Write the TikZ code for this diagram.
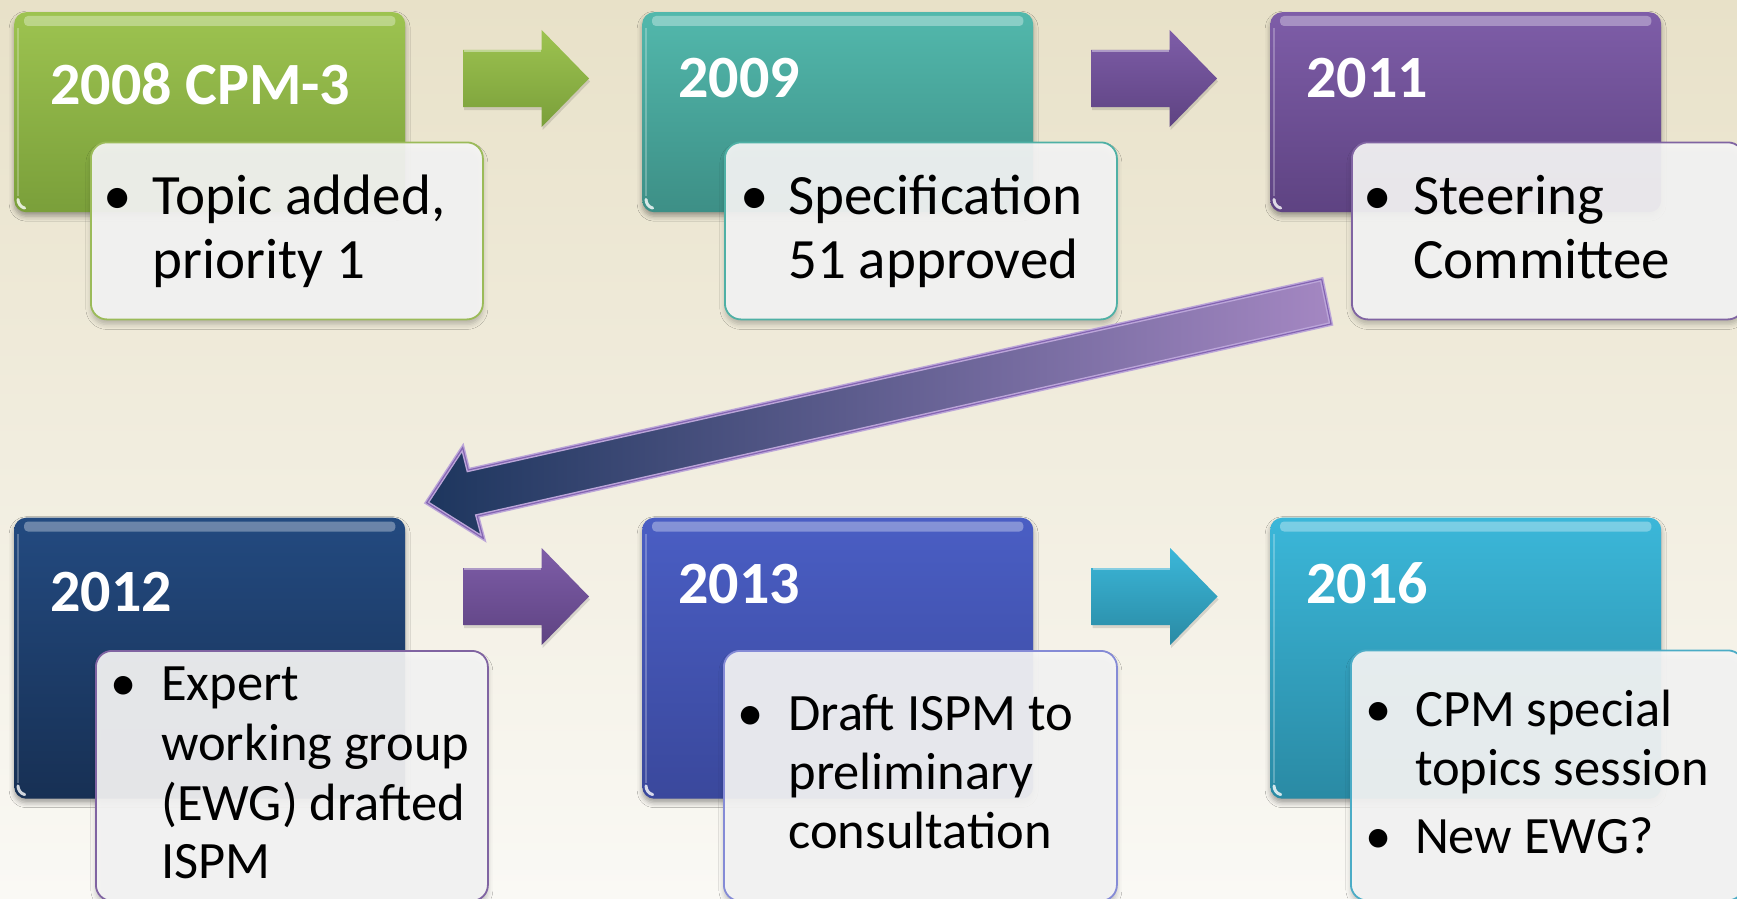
\documentclass[tikz,border=0pt]{standalone}
\usepackage{fontspec}
\setmainfont{Carlito}
\usetikzlibrary{calc,shadows.blur}

\definecolor{bgTop}{HTML}{E8E1C8}
\definecolor{bgBot}{HTML}{FAF9F5}
\definecolor{grnT}{HTML}{9DC350}
\definecolor{grnB}{HTML}{7A9F3A}
\definecolor{grnE}{HTML}{9BBB59}
\definecolor{tealT}{HTML}{52B8AC}
\definecolor{tealB}{HTML}{3D8F86}
\definecolor{tealE}{HTML}{4FB0A5}
\definecolor{purT}{HTML}{7E5DA8}
\definecolor{purB}{HTML}{5E4382}
\definecolor{purE}{HTML}{8064A2}
\definecolor{navT}{HTML}{234A80}
\definecolor{navB}{HTML}{173054}
\definecolor{bluT}{HTML}{4A5EC4}
\definecolor{bluB}{HTML}{3A489C}
\definecolor{bluE}{HTML}{858BD6}
\definecolor{cyaT}{HTML}{3BB7D9}
\definecolor{cyaB}{HTML}{2A8AA4}
\definecolor{cyaE}{HTML}{4BACC6}
\definecolor{boxFill}{HTML}{F6F6F6}
\definecolor{navyArr}{HTML}{1D365E}
\definecolor{lavArr}{HTML}{A487C2}
\definecolor{lavEdge}{HTML}{BCA6D9}
\definecolor{purpEdge}{HTML}{8465B2}

\newcommand\MkHead[6]{%
  \node[headbox, top color=#5, bottom color=#6, minimum height=#4pt] (#1) at (#2,#3) {};
  \fill[white, opacity=0.33, rounded corners=4pt]
    ($(#1.north west)+(10,4)$) rectangle ($(#1.north east)+(-10,14)$);
  \draw[white, opacity=0.25, line width=2pt]
    ($(#1.north west)+(4,16)$) -- ($(#1.south west)+(4,-16)$);
  \draw[white, opacity=0.8, line width=3pt, line cap=round]
    ($(#1.south west)+(4,-13)$) arc[start angle=180, end angle=255, radius=9pt];
}
\newcommand\MkBox[6]{%
  \node[bulbox, draw=#4, minimum height=#5pt, minimum width=#6pt] (#1) at (#2,#3) {};
}
\newcommand\MkArrow[5]{%
  \coordinate (#1) at (#2,#3);
  \path[blockarrow, top color=#4, bottom color=#5]
    ($(#1)+(0,-28.5)$) -- ($(#1)+(78.7,-28.5)$) -- ($(#1)+(78.7,-48.5)$) -- ($(#1)+(126,0)$)
    -- ($(#1)+(78.7,48.5)$) -- ($(#1)+(78.7,28.5)$) -- ($(#1)+(0,28.5)$) -- cycle;
  \draw[white, opacity=0.4, line width=1.5pt]
    ($(#1)+(1,-27.3)$) -- ($(#1)+(78,-27.3)$);
}

\begin{document}
\begin{tikzpicture}[x=1pt,y=-1pt,
  headbox/.style={rounded corners=12pt, minimum width=391pt, inner sep=0pt, anchor=north west,
    blur shadow={shadow xshift=0pt, shadow yshift=-4pt, shadow blur radius=5pt, shadow opacity=35}},
  bulbox/.style={rounded corners=16pt, inner sep=0pt, anchor=north west, line width=1.8pt,
    fill=boxFill, fill opacity=0.92,
    blur shadow={shadow xshift=0pt, shadow yshift=-5pt, shadow blur radius=5pt, shadow opacity=25}},
  headtxt/.style={font=\fontsize{60}{72}\selectfont\bfseries, text=white, inner sep=0pt, anchor=base west},
  bigtxt/.style={font=\fontsize{57}{63}\selectfont, text=black, inner sep=0pt, anchor=base west},
  bigdot/.style={font=\fontsize{57}{63}\selectfont, text=black, inner sep=0pt, anchor=base},
  smtxt/.style={font=\fontsize{52.5}{59}\selectfont, text=black, inner sep=0pt, anchor=base west},
  smdot/.style={font=\fontsize{52.5}{59}\selectfont, text=black, inner sep=0pt, anchor=base},
  blockarrow/.style={preaction={fill=black, opacity=0.12, transform canvas={xshift=1pt, yshift=-3pt}}},
]
\useasboundingbox (0,0) rectangle (1737,899);
\shade[top color=bgTop, bottom color=bgBot] (0,0) rectangle (1737,899);

% ---------- top row ----------
\MkHead{h1}{14}{12}{200}{grnT}{grnB}
\MkHead{h2}{642}{12}{200}{tealT}{tealB}
\MkHead{h3}{1270}{12}{200}{purT}{purB}

\node[headtxt] (t1) at (50,104) {2008 CPM-3};
\node[headtxt] (t2) at (678,97) {2009};
\node[headtxt] (t3) at (1306,97) {2011};

\MkBox{b1}{90}{141.5}{grnE}{177}{392}
\MkBox{b2}{724}{141.5}{tealE}{177}{392}
\MkBox{b3}{1351}{141.5}{purE}{177}{392}

\node[bigdot] (d1) at (118,214) {•};
\node[bigtxt] (l1a) at (152.7,214) {Topic added,};
\node[bigtxt] (l1b) at (152.7,278) {priority 1};

\node[bigdot] (d2) at (754.7,214) {•};
\node[bigtxt] (l2a) at (788,214) {Specification};
\node[bigtxt] (l2b) at (788,278) {51 approved};

\node[bigdot] (d3) at (1378,214) {•};
\node[bigtxt] (l3a) at (1413,214) {Steering};
\node[bigtxt] (l3b) at (1413,278) {Committee};

% ---------- bottom row ----------
\MkHead{h4}{14}{517.5}{281}{navT}{navB}
\MkHead{h5}{642}{517.5}{281}{bluT}{bluB}
\MkHead{h6}{1270}{517.5}{281}{cyaT}{cyaB}

\node[headtxt] (t4) at (50,611.5) {2012};
\node[headtxt] (t5) at (678,603) {2013};
\node[headtxt] (t6) at (1306,603) {2016};

\MkBox{b4}{95}{650}{purE}{250}{392}
\MkBox{b5}{723}{650}{bluE}{250}{393}
\MkBox{b6}{1350}{649.5}{cyaE}{250}{393}

\node[smdot] (d4) at (124,700.7) {•};
\node[smtxt] (l4a) at (161,700.7) {Expert};
\node[smtxt] (l4b) at (161,760.7) {working group};
\node[smtxt] (l4c) at (161,820.7) {(EWG) drafted};
\node[smtxt] (l4d) at (161,878.5) {ISPM};

\node[smdot] (d5) at (751,730.7) {•};
\node[smtxt] (l5a) at (788.3,730.7) {Draft ISPM to};
\node[smtxt] (l5b) at (788.3,789.3) {preliminary};
\node[smtxt] (l5c) at (788.3,848.3) {consultation};

\node[smdot] (d6a) at (1378.3,726.7) {•};
\node[smtxt] (l6a) at (1414.8,726.7) {CPM special};
\node[smtxt] (l6b) at (1414.8,785) {topics session};
\node[smdot] (d6b) at (1378.3,853.3) {•};
\node[smtxt] (l6c) at (1414.8,853.3) {New EWG?};

% ---------- block arrows ----------
\MkArrow{a1}{463}{78.5}{grnT}{grnB}
\MkArrow{a2}{1091}{78.5}{purT}{purB}
\MkArrow{a3}{463}{596.5}{purT}{purB}
\MkArrow{a4}{1091.5}{596.5}{cyaT}{cyaB}

% ---------- big diagonal arrow ----------
\coordinate (BA1) at (1321.7,279.3);
\coordinate (BA2) at (1331,324);
\coordinate (BA3) at (477.3,516);
\coordinate (BA4) at (483.3,538.3);
\coordinate (BA5) at (426.7,502.7);
\coordinate (BA6) at (462.7,447.7);
\coordinate (BA7) at (468.3,470);
\path[left color=navyArr, right color=lavArr, draw=lavEdge, line width=4pt, line join=miter]
  (BA1) -- (BA2) -- (BA3) -- (BA4) -- (BA5) -- (BA6) -- (BA7) -- cycle;
\draw[purpEdge, line width=1.2pt, line join=miter]
  (BA1) -- (BA2) -- (BA3) -- (BA4) -- (BA5) -- (BA6) -- (BA7) -- cycle;
\end{tikzpicture}
\end{document}
